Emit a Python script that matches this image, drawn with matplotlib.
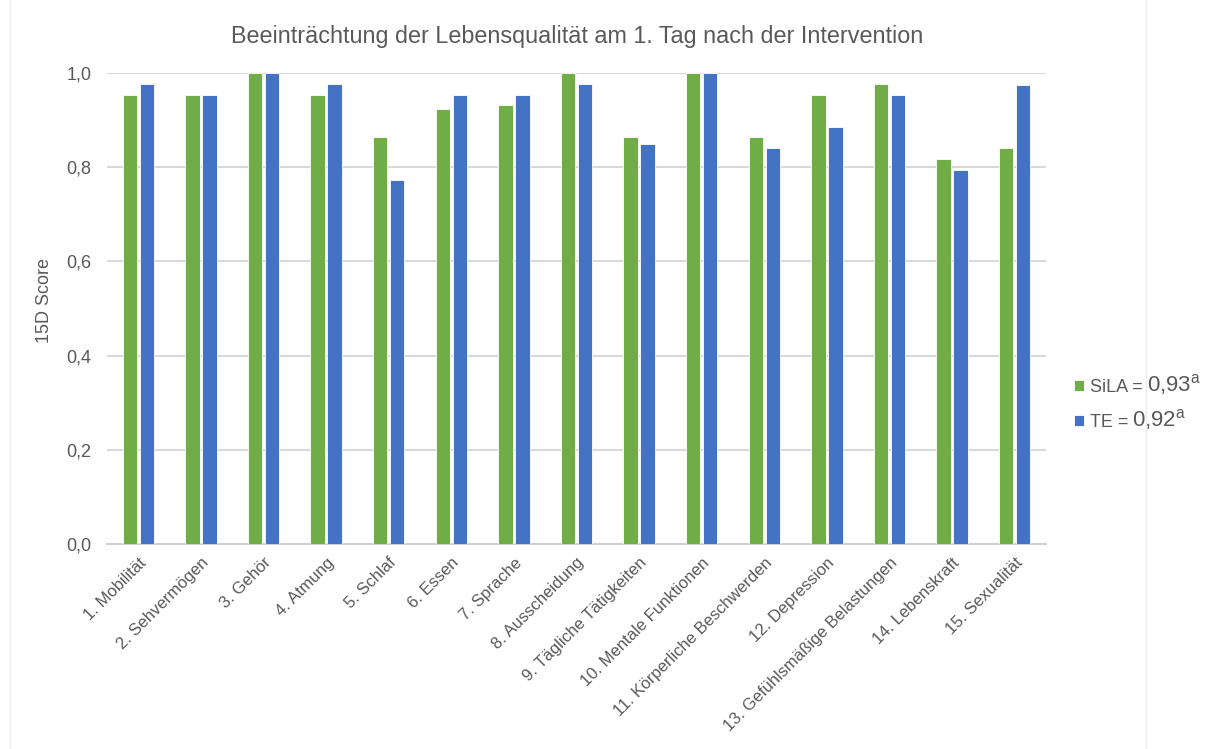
import numpy as np
import matplotlib.pyplot as plt
from matplotlib.ticker import FuncFormatter
from matplotlib.lines import Line2D

plt.rcParams['font.family'] = ['Liberation Sans', 'DejaVu Sans']

categories = ["1. Mobilität", "2. Sehvermögen", "3. Gehör", "4. Atmung", "5. Schlaf",
              "6. Essen", "7. Sprache", "8. Ausscheidung", "9. Tägliche Tätigkeiten",
              "10. Mentale Funktionen", "11. Körperliche Beschwerden", "12. Depression",
              "13. Gefühlsmäßige Belastungen", "14. Lebenskraft", "15. Sexualität"]
sila = [0.954, 0.954, 1.0, 0.954, 0.864, 0.924, 0.931, 1.0, 0.864, 1.0, 0.864, 0.954, 0.977, 0.818, 0.841]
te = [0.977, 0.954, 1.0, 0.977, 0.772, 0.954, 0.954, 0.977, 0.849, 1.0, 0.841, 0.886, 0.954, 0.795, 0.975]
series_names = ["SiLA", "TE"]
series_means = ["0,93", "0,92"]
yticks = [0.0, 0.2, 0.4, 0.6, 0.8, 1.0]

GREEN = '#70AD47'
BLUE = '#4472C4'
TXT = '#595959'

fig = plt.figure(figsize=(12.12, 7.49), dpi=100)
ax = fig.add_axes([107/1212, 1-544/749, (1046-107)/1212, (544-73)/749])

x = np.arange(len(categories))
bw = 0.23
gap = 0.04
ax.bar(x - (bw+gap)/2, sila, width=bw, color=GREEN, edgecolor='white', linewidth=0.6,
       label=f"{series_names[0]} =", zorder=3)
ax.bar(x + (bw+gap)/2, te, width=bw, color=BLUE, edgecolor='white', linewidth=0.6,
       label=f"{series_names[1]} =", zorder=3)

ax.set_xlim(-0.5, len(categories)-0.5)
ax.set_ylim(0, 1.0)
ax.set_yticks(yticks)
ax.yaxis.set_major_formatter(FuncFormatter(lambda v, p: f"{v:.1f}".replace('.', ',')))
ax.grid(axis='y', color='#d9d9d9', linewidth=1.5, zorder=0)
ax.set_axisbelow(True)
for s in ['top', 'right', 'left']:
    ax.spines[s].set_visible(False)
ax.spines['bottom'].set_color('#d0d0d0')
ax.spines['bottom'].set_linewidth(1.5)
ax.tick_params(axis='both', length=0, colors=TXT)
ax.tick_params(axis='y', pad=11, labelsize=13)
ax.set_xticks(x)
ax.set_xticklabels(categories, rotation=45, ha='right', rotation_mode='anchor')
ax.tick_params(axis='x', pad=8, labelsize=12)
for lbl in ax.get_xticklabels():
    lbl.set_x(lbl.get_position()[0] - 0.06)

ax.set_ylabel("15D Score", fontsize=13, color=TXT)
ax.yaxis.set_label_coords(-0.0575, 0.518)
fig.text(577/1212, 1-37/749, "Beeinträchtung der Lebensqualität am 1. Tag nach der Intervention",
         ha='center', va='center', fontsize=16.8, color=TXT)

leg = ax.legend(loc='center left', bbox_to_anchor=(1.012, 0.295), frameon=False,
                fontsize=13, handlelength=0.6, handleheight=0.6, handletextpad=0.3,
                labelspacing=1.0, labelcolor=TXT)
# mean values drawn a bit larger right after each legend label (after the legend is laid out)
for t, m in zip(leg.get_texts(), series_means):
    ax.annotate(f"{m}$^\\mathregular{{a}}$", xy=(1, 0), xycoords=t, xytext=(3, -1),
                textcoords='offset points', ha='left', va='bottom',
                fontsize=16, color=TXT, annotation_clip=False, zorder=10)

# faint frame lines of the chart area
fig.add_artist(Line2D([10/1212, 10/1212], [0, 1], color='#eeeeee', linewidth=1))
fig.add_artist(Line2D([1146/1212, 1146/1212], [0, 1], color='#eeeeee', linewidth=1))

fig.savefig('out.png', dpi=100, facecolor='white')
